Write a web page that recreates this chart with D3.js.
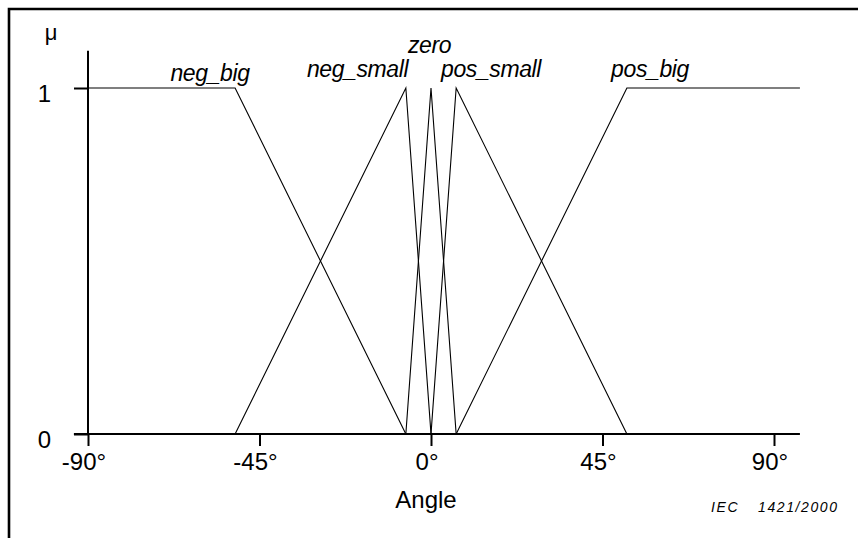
<!DOCTYPE html>
<html>
<head>
<meta charset="utf-8">
<script src="https://cdn.jsdelivr.net/npm/d3@7"></script>
<style>
  html, body { margin: 0; padding: 0; background: #fff; }
  svg { display: block; }
  text { font-family: "Liberation Sans", Arial, Helvetica, sans-serif; fill: #000; }
</style>
</head>
<body>
<svg id="chart" width="858" height="538"></svg>
<script>
// Fuzzy membership functions for the angle input (degrees -> membership)
const setNames = ["neg_big", "neg_small", "zero", "pos_small", "pos_big"];
const negBigAngle   = [-90, -51.4, -6.6];
const negBigMu      = [1, 1, 0];
const negSmallAngle = [-51.4, -6.6, 0];
const negSmallMu    = [0, 1, 0];
const zeroAngle     = [-6.6, 0, 6.6];
const zeroMu        = [0, 1, 0];
const posSmallAngle = [0, 6.6, 51.4];
const posSmallMu    = [0, 1, 0];
const posBigAngle   = [6.6, 51.4, 96.8];
const posBigMu      = [0, 1, 1];

const xTickValues = [-90, -45, 0, 45, 90];
const xTickLabels = ["-90°", "-45°", "0°", "45°", "90°"];
const yTickValues = [0, 1];
const yTickLabels = ["0", "1"];
const xAxisExtent = [-93.7, 96.8];
const yAxisExtent = [0, 1.108];

const series = [
  { name: setNames[0], angle: negBigAngle,   mu: negBigMu },
  { name: setNames[1], angle: negSmallAngle, mu: negSmallMu },
  { name: setNames[2], angle: zeroAngle,     mu: zeroMu },
  { name: setNames[3], angle: posSmallAngle, mu: posSmallMu },
  { name: setNames[4], angle: posBigAngle,   mu: posBigMu }
];

// label placement (pixel anchor: centre x, baseline y)
const labelPlace = {
  neg_big:   [210, 81],
  neg_small: [357.5, 77],
  zero:      [429.5, 53],
  pos_small: [491, 77],
  pos_big:   [650, 77]
};

const svg = d3.select("#chart");
svg.append("rect").attr("width", 858).attr("height", 538).attr("fill", "#fff");

// page frame (top and left rules)
svg.append("path")
  .attr("d", "M9,538 V9 H858")
  .attr("fill", "none").attr("stroke", "#000").attr("stroke-width", 2.6);

const x = d3.scaleLinear().domain([-90, 90]).range([88, 774]);
const y = d3.scaleLinear().domain([0, 1]).range([434, 88]);

// membership polylines
const line = d3.line().x(d => x(d[0])).y(d => y(d[1]));
svg.append("g").selectAll("path")
  .data(series)
  .join("path")
  .attr("d", s => line(s.angle.map((a, i) => [a, s.mu[i]])))
  .attr("fill", "none")
  .attr("stroke", "#000")
  .attr("stroke-width", 1.1);

// axes lines
svg.append("line")
  .attr("x1", x(-90)).attr("x2", x(-90))
  .attr("y1", y(yAxisExtent[0])).attr("y2", y(yAxisExtent[1]))
  .attr("stroke", "#000").attr("stroke-width", 2);
svg.append("line")
  .attr("x1", x(xAxisExtent[0])).attr("x2", x(xAxisExtent[1]))
  .attr("y1", y(0)).attr("y2", y(0))
  .attr("stroke", "#000").attr("stroke-width", 2);

// x axis ticks and labels
const xAxis = d3.axisBottom(x)
  .tickValues(xTickValues)
  .tickSize(12)
  .tickFormat((d, i) => xTickLabels[i]);
const gx = svg.append("g").attr("transform", `translate(0,${y(0)})`).call(xAxis);
gx.select(".domain").remove();
gx.selectAll(".tick line").attr("stroke", "#000").attr("stroke-width", 2);
gx.selectAll(".tick text")
  .attr("y", 36).attr("dy", null).attr("dx", -4.5)
  .attr("font-size", 24)
  .style("font-family", '"Liberation Sans", Arial, sans-serif')
  .attr("fill", "#000");

// y axis ticks and labels
const yAxis = d3.axisLeft(y)
  .tickValues(yTickValues)
  .tickSize(14)
  .tickFormat((d, i) => yTickLabels[i]);
const gy = svg.append("g").attr("transform", `translate(${x(-90)},0)`).call(yAxis);
gy.select(".domain").remove();
gy.selectAll(".tick line").attr("stroke", "#000").attr("stroke-width", 2);
gy.selectAll(".tick text")
  .attr("x", -37).attr("dy", null).attr("y", 13)
  .attr("text-anchor", "end")
  .attr("font-size", 24)
  .style("font-family", '"Liberation Sans", Arial, sans-serif')
  .attr("fill", "#000");

// axis titles
svg.append("text")
  .attr("x", 51).attr("y", 40)
  .attr("text-anchor", "middle")
  .attr("font-size", 22)
  .text("μ");
svg.append("text")
  .attr("x", 426).attr("y", 507.5)
  .attr("text-anchor", "middle")
  .attr("font-size", 24)
  .text("Angle");

// fuzzy set names
svg.append("g").selectAll("text")
  .data(series)
  .join("text")
  .attr("x", s => labelPlace[s.name][0])
  .attr("y", s => labelPlace[s.name][1])
  .attr("text-anchor", "middle")
  .attr("font-size", 23)
  .attr("font-style", "italic")
  .style("letter-spacing", "-0.4px")
  .text(s => s.name);

// figure reference
svg.append("text")
  .attr("x", 711).attr("y", 511.5)
  .attr("font-size", 14).attr("font-style", "italic")
  .style("letter-spacing", "1.6px")
  .text("IEC");
svg.append("text")
  .attr("x", 758).attr("y", 511.5)
  .attr("font-size", 14).attr("font-style", "italic")
  .style("letter-spacing", "1.6px")
  .text("1421/2000");
</script>
</body>
</html>
